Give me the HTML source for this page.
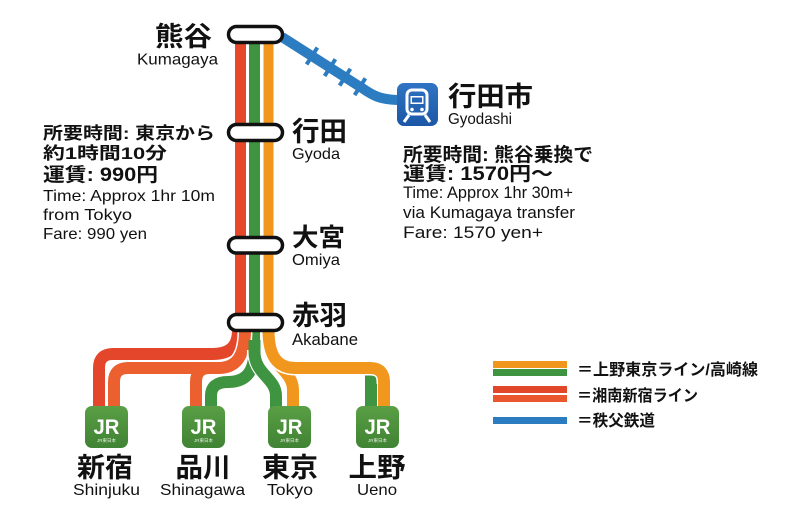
<!DOCTYPE html>
<html><head><meta charset="utf-8"><style>
html,body{margin:0;padding:0;background:#fff;}
svg{display:block;}
text{font-family:"Liberation Sans","Noto Sans CJK JP",sans-serif;fill:#111;}
.b{font-weight:700;}
</style></head><body>
<svg width="786" height="524" viewBox="0 0 786 524" xmlns="http://www.w3.org/2000/svg">
<defs>
<linearGradient id="jr" x1="0" y1="0" x2="0" y2="1"><stop offset="0" stop-color="#5a9e45"/><stop offset="1" stop-color="#3f8334"/></linearGradient>
<linearGradient id="bl" x1="0" y1="0" x2="0" y2="1"><stop offset="0" stop-color="#2f74c4"/><stop offset="1" stop-color="#1c57a6"/></linearGradient>
</defs>
<rect width="786" height="524" fill="#fff"/>

<!-- Chichibu line (blue) -->
<path d="M282,37 L362,88 C372,95 380,100 400,100" fill="none" stroke="#2c7cc1" stroke-width="10" stroke-linecap="butt"/>
<g stroke="#2c7cc1" stroke-width="4">
<line x1="306.6" y1="64.4" x2="317.4" y2="47.6"/>
<line x1="324.6" y1="76" x2="335.4" y2="59.2"/>
<line x1="339.6" y1="85.6" x2="350.4" y2="68.8"/>
<line x1="354.6" y1="95.1" x2="365.4" y2="78.3"/>
</g>

<!-- main trunk -->
<g fill="none" stroke-linecap="butt">
<line x1="240.5" y1="40" x2="240.5" y2="334" stroke="#e5492a" stroke-width="11"/>
<line x1="254.5" y1="40" x2="254.5" y2="356" stroke="#3e9440" stroke-width="11"/>
<line x1="268.5" y1="40" x2="268.5" y2="334" stroke="#f1971e" stroke-width="10"/>
</g>

<!-- branches -->
<g fill="none" stroke-linecap="butt">
<!-- Ueno green (under orange) -->
<line x1="371" y1="372" x2="371" y2="410" stroke="#3e9440" stroke-width="12"/>
<!-- outer red to Shinjuku -->
<path d="M238,330 C238,348 228,354 212,354 L113,354 Q99,354 99,368 L99,410" stroke="#fff" stroke-width="15"/>
<path d="M238,330 C238,348 228,354 212,354 L113,354 Q99,354 99,368 L99,410" stroke="#e3462a" stroke-width="12"/>
<!-- inner red to Shinjuku and Shinagawa -->
<path d="M245,330 C245,358 235,368 218,368 L128,368 Q114,368 114,382 L114,410" stroke="#fff" stroke-width="15"/>
<path d="M218,368 L210,368 Q196,368 196,382 L196,410" stroke="#fff" stroke-width="15"/>
<path d="M245,330 C245,358 235,368 218,368 L128,368 Q114,368 114,382 L114,410" stroke="#ec5f2e" stroke-width="12"/>
<path d="M218,368 L210,368 Q196,368 196,382 L196,410" stroke="#ec5f2e" stroke-width="12"/>
<!-- green to Shinagawa -->
<path d="M254.5,350 C254.5,374 244,382 228,382 Q211,382 211,396 L211,410" stroke="#fff" stroke-width="15"/>
<path d="M254.5,350 C254.5,374 244,382 228,382 Q211,382 211,396 L211,410" stroke="#3e9440" stroke-width="12"/>
<!-- green to Tokyo -->
<path d="M254.5,350 C254.5,374 276,378 276,396 L276,410" stroke="#fff" stroke-width="15"/>
<path d="M254.5,340 L254.5,352 C254.5,374 276,378 276,396 L276,410" stroke="#3e9440" stroke-width="12"/>
<!-- orange to Tokyo -->
<path d="M268.5,332 L268.5,344 C268.5,364 293,370 293,390 L293,410" stroke="#fff" stroke-width="15"/>
<path d="M268.5,330 L268.5,344 C268.5,364 293,370 293,390 L293,410" stroke="#f1971e" stroke-width="12"/>
<!-- orange to Ueno -->
<path d="M268.5,334 C268.5,360 280,368 296,368 L370,368 Q384,368 384,382 L384,410" stroke="#fff" stroke-width="15"/>
<path d="M268.5,330 C268.5,360 280,368 296,368 L370,368 Q384,368 384,382 L384,410" stroke="#f1971e" stroke-width="12"/>
<polygon points="365,376 377,384 377,410 365,410" fill="#3e9440"/>
</g>

<!-- station pills -->
<g fill="#fff" stroke="#111" stroke-width="3.5">
<rect x="228.5" y="26.5" width="54" height="16" rx="8"/>
<rect x="228.5" y="124.5" width="54" height="16" rx="8"/>
<rect x="228.5" y="237.5" width="54" height="15.5" rx="7.75"/>
<rect x="228.5" y="314.5" width="54" height="16" rx="8"/>
</g>

<!-- JR boxes -->
<g>
<rect x="85" y="406" width="43" height="42" rx="7" fill="url(#jr)"/>
<rect x="182" y="406" width="43" height="42" rx="7" fill="url(#jr)"/>
<rect x="268" y="406" width="43" height="42" rx="7" fill="url(#jr)"/>
<rect x="356" y="406" width="43" height="42" rx="7" fill="url(#jr)"/>
</g>
<g class="b" font-size="21" text-anchor="middle" style="fill:#fff">
<text x="106.5" y="434" class="b" style="fill:#fff" textLength="26" lengthAdjust="spacingAndGlyphs">JR</text>
<text x="203.5" y="434" class="b" style="fill:#fff" textLength="26" lengthAdjust="spacingAndGlyphs">JR</text>
<text x="289.5" y="434" class="b" style="fill:#fff" textLength="26" lengthAdjust="spacingAndGlyphs">JR</text>
<text x="377.5" y="434" class="b" style="fill:#fff" textLength="26" lengthAdjust="spacingAndGlyphs">JR</text>
</g>
<g font-size="4.5" text-anchor="middle">
<text x="106.5" y="442" style="fill:#e8f3e2">JR東日本</text>
<text x="203.5" y="442" style="fill:#e8f3e2">JR東日本</text>
<text x="289.5" y="442" style="fill:#e8f3e2">JR東日本</text>
<text x="377.5" y="442" style="fill:#e8f3e2">JR東日本</text>
</g>

<!-- train icon -->
<rect x="397" y="83" width="41" height="43" rx="7" fill="url(#bl)"/>
<rect x="407" y="90" width="20" height="24" rx="5" fill="none" stroke="#fff" stroke-width="3"/>
<rect x="410.5" y="96" width="13" height="8" fill="#fff"/>
<rect x="412" y="97.5" width="10" height="5" fill="#2466b6"/>
<circle cx="412" cy="109.5" r="1.8" fill="#fff"/>
<circle cx="422" cy="109.5" r="1.8" fill="#fff"/>
<line x1="409" y1="115" x2="404" y2="122" stroke="#fff" stroke-width="3"/>
<line x1="425" y1="115" x2="430" y2="122" stroke="#fff" stroke-width="3"/>

<!-- station names along trunk -->
<text x="155" y="46" class="b" font-size="27" textLength="57" lengthAdjust="spacingAndGlyphs">熊谷</text>
<text x="137" y="64.5" font-size="16" textLength="81" lengthAdjust="spacingAndGlyphs">Kumagaya</text>
<text x="292" y="141" class="b" font-size="27" textLength="55" lengthAdjust="spacingAndGlyphs">行田</text>
<text x="292" y="159" font-size="16" textLength="48" lengthAdjust="spacingAndGlyphs">Gyoda</text>
<text x="292" y="246" class="b" font-size="25" textLength="53" lengthAdjust="spacingAndGlyphs">大宮</text>
<text x="292" y="265" font-size="16" textLength="48" lengthAdjust="spacingAndGlyphs">Omiya</text>
<text x="292" y="325" class="b" font-size="27" textLength="55" lengthAdjust="spacingAndGlyphs">赤羽</text>
<text x="292" y="345" font-size="17" textLength="66" lengthAdjust="spacingAndGlyphs">Akabane</text>

<!-- left info block -->
<text x="43" y="139" class="b" font-size="17" textLength="172" lengthAdjust="spacingAndGlyphs">所要時間: 東京から</text>
<text x="43" y="159" class="b" font-size="17" textLength="124" lengthAdjust="spacingAndGlyphs">約1時間10分</text>
<text x="43" y="181" class="b" font-size="19" textLength="115" lengthAdjust="spacingAndGlyphs">運賃: 990円</text>
<text x="43" y="201" font-size="16" textLength="172" lengthAdjust="spacingAndGlyphs">Time: Approx 1hr 10m</text>
<text x="43" y="220" font-size="16" textLength="89" lengthAdjust="spacingAndGlyphs">from Tokyo</text>
<text x="43" y="239" font-size="16" textLength="104" lengthAdjust="spacingAndGlyphs">Fare: 990 yen</text>

<!-- right info block -->
<text x="448" y="106" class="b" font-size="27" textLength="85" lengthAdjust="spacingAndGlyphs">行田市</text>
<text x="448" y="124" font-size="16" textLength="64" lengthAdjust="spacingAndGlyphs">Gyodashi</text>
<text x="403" y="161" class="b" font-size="19" textLength="190" lengthAdjust="spacingAndGlyphs">所要時間: 熊谷乗換で</text>
<text x="403" y="180" class="b" font-size="19" textLength="150" lengthAdjust="spacingAndGlyphs">運賃: 1570円〜</text>
<text x="403" y="198" font-size="17" textLength="170" lengthAdjust="spacingAndGlyphs">Time: Approx 1hr 30m+</text>
<text x="403" y="218" font-size="17" textLength="172" lengthAdjust="spacingAndGlyphs">via Kumagaya transfer</text>
<text x="403" y="238" font-size="17" textLength="140" lengthAdjust="spacingAndGlyphs">Fare: 1570 yen+</text>

<!-- bottom station names -->
<g text-anchor="middle">
<text x="105" y="477" class="b" font-size="27" textLength="56" lengthAdjust="spacingAndGlyphs">新宿</text>
<text x="203" y="477" class="b" font-size="27" textLength="55" lengthAdjust="spacingAndGlyphs">品川</text>
<text x="290" y="477" class="b" font-size="27" textLength="56" lengthAdjust="spacingAndGlyphs">東京</text>
<text x="377" y="477" class="b" font-size="27" textLength="57" lengthAdjust="spacingAndGlyphs">上野</text>
<text x="106.5" y="495" font-size="16" textLength="67" lengthAdjust="spacingAndGlyphs">Shinjuku</text>
<text x="202.5" y="495" font-size="16" textLength="85" lengthAdjust="spacingAndGlyphs">Shinagawa</text>
<text x="290" y="495" font-size="16" textLength="46" lengthAdjust="spacingAndGlyphs">Tokyo</text>
<text x="377" y="495" font-size="16" textLength="40" lengthAdjust="spacingAndGlyphs">Ueno</text>
</g>

<!-- legend -->
<rect x="493" y="361" width="74" height="7" fill="#f1971e"/>
<rect x="493" y="369" width="74" height="7" fill="#3e9440"/>
<rect x="493" y="386" width="74" height="7" fill="#e3472a"/>
<rect x="493" y="395" width="74" height="7" fill="#ea562d"/>
<rect x="493" y="417" width="74" height="7" fill="#2c7cc1"/>
<text x="577" y="375" class="b" font-size="16" textLength="181" lengthAdjust="spacingAndGlyphs">＝上野東京ライン/高崎線</text>
<text x="577" y="401" class="b" font-size="16" textLength="121" lengthAdjust="spacingAndGlyphs">＝湘南新宿ライン</text>
<text x="577" y="426" class="b" font-size="16" textLength="78" lengthAdjust="spacingAndGlyphs">＝秩父鉄道</text>
</svg>
</body></html>
